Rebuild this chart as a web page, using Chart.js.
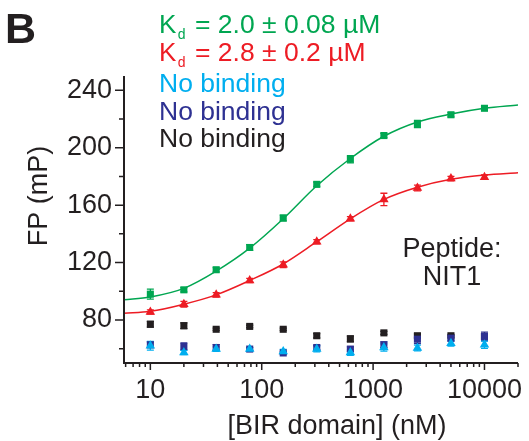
<!DOCTYPE html>
<html>
<head>
<meta charset="utf-8">
<script src="https://cdn.jsdelivr.net/npm/chart.js@4.4.1/dist/chart.umd.min.js"></script>
<style>
  html, body { margin: 0; padding: 0; background: #fff; }
  canvas { display: block; }
</style>
</head>
<body>
<canvas id="graphique" width="529" height="441"></canvas>
<script>
// Concentrations (nM) des points mesures
var concentrations = [10, 20, 39, 78, 156, 312, 625, 1250, 2500, 5000, 10000];

// Valeurs FP (mP) et barres d'erreur
var vertFP = [98, 101, 115, 130.5, 151, 174.5, 192, 208.5, 216.5, 223, 227.5];
var vertErr = [3.5, 1.5, 1.5, 2, 2, 1.5, 2.5, 1.5, 2.5, 1.5, 1];
var rougeFP = [85.5, 91, 97.5, 107.5, 118.5, 134.5, 150.5, 164, 172, 178.5, 179.5];
var rougeErr = [1.5, 2, 1.5, 1.5, 2, 1.5, 1.5, 4.3, 2, 1.5, 1.5];
var noirFP = [77, 76, 73.5, 75.5, 73.5, 69, 66.8, 71, 69, 69, 68.5];
var noirErr = [2, 2, 0.8, 0.8, 0.8, 1.5, 2, 1, 1.5, 1, 1];
var bleuFonceFP = [62.7, 61.5, 60.8, 59.7, 57, 60.8, 59.7, 62.7, 66.6, 67.3, 68.5];
var bleuFonceErr = [2, 2.5, 2, 1, 1, 1.5, 1.5, 2, 3, 2, 3];
var bleuClairFP = [62, 57.4, 59.7, 59.7, 58, 59.7, 57.4, 60.8, 60.4, 63.8, 62.7];
var bleuClairErr = [3, 1.5, 1.5, 1, 1.5, 2, 2, 2.5, 2, 2, 2.5];

// Courbes d'ajustement
var ajustConc = [5.8, 10, 20, 39, 78, 156, 312, 625, 1250, 2500, 5000, 10000, 20000];
var ajustVert = [94, 96, 102, 114, 130, 150.5, 173.5, 192.5, 208, 218, 223.5, 227.5, 229.8];
var ajustRouge = [84.6, 86, 91, 97.5, 107.5, 119, 134.5, 150.5, 164, 172.5, 178, 181, 182.5];

// Graduations
var xLabels = [10, 100, 1000, 10000];
var yTicks = [60, 80, 100, 120, 140, 160, 180, 200, 220, 240];
var yLabels = [80, 120, 160, 200, 240];

// Textes de la legende
var legendeTextes = ["K|d| = 2.0 \u00b1 0.08 \u00b5M", "K|d| = 2.8 \u00b1 0.2 \u00b5M", "No binding", "No binding", "No binding"];
var legendeCouleurs = ["#00a651", "#ed1c24", "#00aeef", "#2e3192", "#231f20"];

var xMin = 5.8, xMax = 20000;

// Graduations mineures du log : 1..9 x 10^n
var xTicks = [];
for (var dec = 1; dec <= 10000; dec *= 10) {
  for (var m = 1; m <= 9; m++) {
    var v = m * dec;
    if (v >= xMin && v <= xMax) xTicks.push(v);
  }
}

function points(xv, yv) {
  var out = [];
  for (var i = 0; i < xv.length; i++) out.push({ x: xv[i], y: yv[i] });
  return out;
}

var POLICE = "'Liberation Sans', Arial, Helvetica, sans-serif";

// Barres d'erreur
var errorBars = {
  id: "errorBars",
  beforeDatasetsDraw: function(chart) {
    var ctx = chart.ctx, xs = chart.scales.x, ys = chart.scales.y;
    for (var d = chart.data.datasets.length - 1; d >= 0; d--) {
      var ds = chart.data.datasets[d];
      if (!ds.errors) continue;
      ctx.save();
      ctx.strokeStyle = ds.backgroundColor;
      ctx.lineWidth = 1.3;
      for (var i = 0; i < ds.data.length; i++) {
        var p = ds.data[i];
        var px = xs.getPixelForValue(p.x);
        var top = ys.getPixelForValue(p.y + ds.errors[i]);
        var bot = ys.getPixelForValue(p.y - ds.errors[i]);
        ctx.beginPath();
        ctx.moveTo(px, top); ctx.lineTo(px, bot);
        ctx.moveTo(px - 3.5, top); ctx.lineTo(px + 3.5, top);
        ctx.moveTo(px - 3.5, bot); ctx.lineTo(px + 3.5, bot);
        ctx.stroke();
      }
      ctx.restore();
    }
  }
};

// Axes, graduations et textes
var decor = {
  id: "decor",
  afterDraw: function(chart) {
    var ctx = chart.ctx, xs = chart.scales.x, ys = chart.scales.y;
    var a = chart.chartArea;
    ctx.save();
    ctx.strokeStyle = "#231f20";
    ctx.lineWidth = 2;
    ctx.beginPath();
    ctx.moveTo(a.left, a.top); ctx.lineTo(a.left, a.bottom + 1);
    ctx.moveTo(a.left - 1, a.bottom); ctx.lineTo(a.right, a.bottom);
    ctx.stroke();

    ctx.lineWidth = 1.5;
    ctx.beginPath();
    for (var i = 0; i < xTicks.length; i++) {
      var px = xs.getPixelForValue(xTicks[i]);
      var len = xLabels.indexOf(xTicks[i]) >= 0 ? 7 : 4;
      ctx.moveTo(px, a.bottom); ctx.lineTo(px, a.bottom + len);
    }
    for (var j = 0; j < yTicks.length; j++) {
      var py = ys.getPixelForValue(yTicks[j]);
      var l = yLabels.indexOf(yTicks[j]) >= 0 ? 9 : 5;
      ctx.moveTo(a.left, py); ctx.lineTo(a.left - l, py);
    }
    ctx.stroke();

    // Lettre du panneau
    ctx.fillStyle = "#231f20";
    ctx.textBaseline = "alphabetic";
    ctx.textAlign = "left";
    ctx.font = "bold 43px " + POLICE;
    ctx.fillText("B", 5, 43);

    // Legende
    var base = [33, 61, 91.5, 119.5, 147];
    for (var k = 0; k < legendeTextes.length; k++) {
      ctx.fillStyle = legendeCouleurs[k];
      var morceaux = legendeTextes[k].split("|");
      var x = 159;
      if (morceaux.length === 3) {
        ctx.font = "26px " + POLICE;
        ctx.fillText(morceaux[0], x, base[k]);
        x += ctx.measureText(morceaux[0]).width + 1.5;
        ctx.font = "14px " + POLICE;
        ctx.fillText(morceaux[1], x, base[k] + 6);
        x += ctx.measureText(morceaux[1]).width + 2;
        ctx.font = "26.5px " + POLICE;
        ctx.fillText(morceaux[2], x, base[k]);
      } else {
        ctx.font = "26.5px " + POLICE;
        ctx.fillText(morceaux[0], x, base[k]);
      }
    }

    // Peptide
    ctx.fillStyle = "#231f20";
    ctx.textAlign = "center";
    ctx.font = "27px " + POLICE;
    ctx.fillText("Peptide:", 452, 257);
    ctx.fillText("NIT1", 452, 285);

    // Titres des axes
    ctx.font = "27px " + POLICE;
    ctx.textBaseline = "middle";
    ctx.fillText("[BIR domain] (nM)", 337, 427);
    ctx.translate(40, 196);
    ctx.rotate(-Math.PI / 2);
    ctx.fillText("FP (mP)", 0, 0);
    ctx.restore();
  }
};

var ctx = document.getElementById("graphique").getContext("2d");

var chart = new Chart(ctx, {
  type: "scatter",
  data: {
    datasets: [
      { data: points(concentrations, bleuClairFP), errors: bleuClairErr, pointStyle: "triangle", pointRadius: 5.5, backgroundColor: "#00aeef", borderWidth: 0 },
      { data: points(concentrations, bleuFonceFP), errors: bleuFonceErr, pointStyle: "rect", pointRadius: 5, backgroundColor: "#2e3192", borderWidth: 0 },
      { data: points(concentrations, noirFP), errors: noirErr, pointStyle: "rect", pointRadius: 5, backgroundColor: "#231f20", borderWidth: 0 },
      { data: points(concentrations, rougeFP), errors: rougeErr, pointStyle: "triangle", pointRadius: 5.5, backgroundColor: "#ed1c24", borderWidth: 0 },
      { data: points(concentrations, vertFP), errors: vertErr, pointStyle: "rect", pointRadius: 5, backgroundColor: "#00a651", borderWidth: 0 },
      { data: points(ajustConc, ajustRouge), showLine: true, pointRadius: 0, borderColor: "#ed1c24", borderWidth: 1.5, cubicInterpolationMode: "monotone" },
      { data: points(ajustConc, ajustVert), showLine: true, pointRadius: 0, borderColor: "#00a651", borderWidth: 1.5, cubicInterpolationMode: "monotone" }
    ]
  },
  options: {
    responsive: false,
    animation: false,
    events: [],
    layout: { padding: { top: 76, right: 9, left: 0, bottom: 0 } },
    plugins: { legend: { display: false }, tooltip: { enabled: false } },
    scales: {
      x: {
        type: "logarithmic",
        min: xMin,
        max: xMax,
        border: { display: false },
        grid: { display: false, drawTicks: false },
        afterBuildTicks: function(scale) {
          scale.ticks = xTicks.map(function(v) { return { value: v }; });
        },
        afterFit: function(scale) { scale.height = 78; },
        ticks: {
          autoSkip: false,
          maxRotation: 0,
          padding: 11,
          color: "#231f20",
          font: { family: POLICE, size: 27 },
          callback: function(value) {
            return xLabels.indexOf(value) >= 0 ? String(value) : "";
          }
        }
      },
      y: {
        min: 50,
        max: 250,
        border: { display: false },
        grid: { display: false, drawTicks: false },
        afterBuildTicks: function(scale) {
          scale.ticks = yTicks.map(function(v) { return { value: v }; });
        },
        afterFit: function(scale) { scale.width = 124; },
        ticks: {
          autoSkip: false,
          padding: 12,
          color: "#231f20",
          font: { family: POLICE, size: 27 },
          callback: function(value) {
            return yLabels.indexOf(value) >= 0 ? String(value) : "";
          }
        }
      }
    }
  },
  plugins: [errorBars, decor]
});
</script>
</body>
</html>
